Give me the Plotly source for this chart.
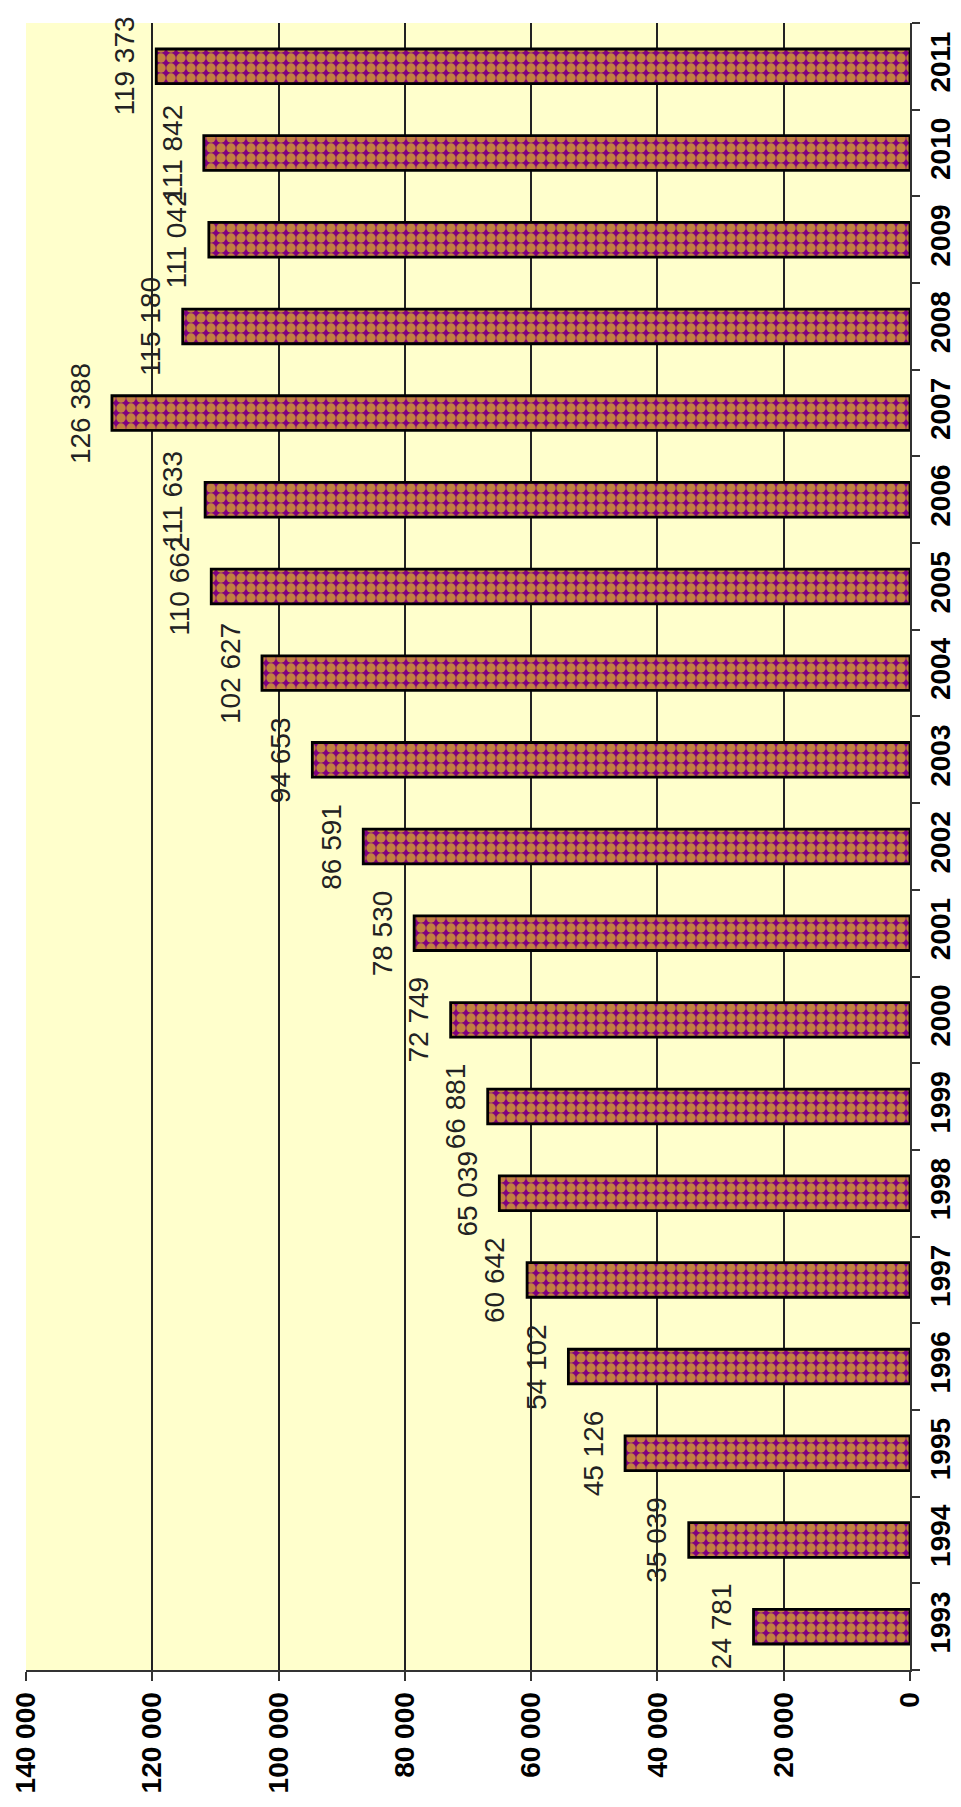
import plotly.graph_objects as go

# Annual values, 1993-2011
years = ["1993", "1994", "1995", "1996", "1997", "1998", "1999", "2000", "2001", "2002",
         "2003", "2004", "2005", "2006", "2007", "2008", "2009", "2010", "2011"]
values = [24781, 35039, 45126, 54102, 60642, 65039, 66881, 72749, 78530, 86591,
          94653, 102627, 110662, 111633, 126388, 115180, 111042, 111842, 119373]

value_ticks = [0, 20000, 40000, 60000, 80000, 100000, 120000, 140000]
value_tick_labels = ["0", "20 000", "40 000", "60 000", "80 000", "100 000", "120 000", "140 000"]


def fmt(v):
    return f"{v:,}".replace(",", " ")


FONT = "Liberation Sans, Arial, sans-serif"

fig = go.Figure()
fig.add_trace(go.Bar(
    x=values,
    y=years,
    orientation="h",
    marker=dict(
        color="#800080",
        line=dict(color="#000000", width=2.8),
        pattern=dict(shape=".", bgcolor="#800080", fgcolor="#FFFF00",
                     size=10, solidity=0.7),
    ),
    hoverinfo="x+y",
))

# Value labels, rotated, just beyond each bar end
# (category positions are given by index along the year axis)
for idx, v in enumerate(values):
    fig.add_annotation(
        x=v, y=idx, text=fmt(v), showarrow=False, textangle=-90,
        xanchor="center", yanchor="middle", xshift=-32,
        font=dict(family=FONT, size=28, color="#222222"),
    )

fig.update_layout(
    width=961, height=1807,
    margin=dict(l=26, r=51, t=23, b=137, autoexpand=False),
    paper_bgcolor="#FFFFFF",
    plot_bgcolor="#FFFFCC",
    bargap=0.6,
    showlegend=False,
)

fig.update_xaxes(
    range=[140000, 0],
    tickvals=value_ticks, ticktext=value_tick_labels,
    tickangle=-90,
    tickfont=dict(family=FONT, size=28, color="#000000", weight="bold"),
    ticks="outside", ticklen=9, tickwidth=2, tickcolor="#333333",
    showline=True, linecolor="#333333", linewidth=2,
    showgrid=True, gridcolor="#222222", gridwidth=2,
    zeroline=False, automargin=False,
)

fig.update_yaxes(
    type="category",
    categoryorder="array", categoryarray=years,
    range=[-0.5, len(years) - 0.5],
    side="right",
    tickangle=-90,
    tickfont=dict(family=FONT, size=28, color="#000000", weight="bold"),
    ticks="outside", tickson="boundaries", ticklen=8, tickwidth=2, tickcolor="#333333",
    ticklabelstandoff=4,
    showline=True, linecolor="#333333", linewidth=2,
    showgrid=False, zeroline=False, automargin=False,
)

fig.write_html("out.html")
